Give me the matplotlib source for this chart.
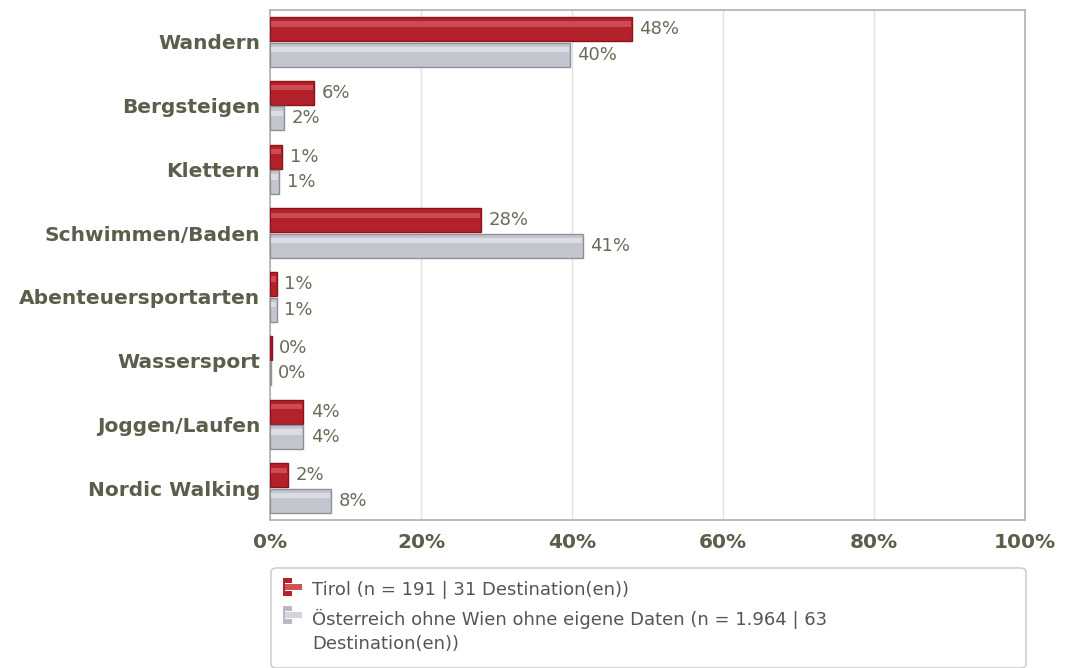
import matplotlib
matplotlib.use("Agg")
import matplotlib.pyplot as plt
from matplotlib.patches import FancyBboxPatch, Rectangle

# Daten
categories = ["Wandern", "Bergsteigen", "Klettern", "Schwimmen/Baden",
              "Abenteuersportarten", "Wassersport", "Joggen/Laufen", "Nordic Walking"]
tirol = [47.9, 5.8, 1.6, 27.9, 0.9, 0.2, 4.4, 2.4]
oesterreich = [39.7, 1.8, 1.2, 41.4, 0.9, 0.1, 4.4, 8.1]
tirol_labels = ["48%", "6%", "1%", "28%", "1%", "0%", "4%", "2%"]
oesterreich_labels = ["40%", "2%", "1%", "41%", "1%", "0%", "4%", "8%"]
x_ticks = [0, 20, 40, 60, 80, 100]
legend_tirol = "Tirol (n = 191 | 31 Destination(en))"
legend_oe = ["Österreich ohne Wien ohne eigene Daten (n = 1.964 | 63", "Destination(en))"]

W, H = 1076, 668
fig = plt.figure(figsize=(W / 100, H / 100), dpi=100)
ax = fig.add_axes([270 / W, 1 - 520 / H, 755 / W, 510 / H])

label_col = "#5b5e4a"
val_col = "#6b6b5a"
red, red_edge, red_hi = "#b3222a", "#8a1419", "#cc4a52"
grey, grey_edge, grey_hi = "#c4c6cf", "#8e909a", "#dcdde3"

y = list(range(len(categories)))
h = 0.38
off = 0.2
y_red = [v - off for v in y]
y_grey = [v + off for v in y]

ax.barh(y_red, tirol, height=h, color=red, edgecolor=red_edge, linewidth=1, zorder=3)
ax.barh(y_grey, oesterreich, height=h, color=grey, edgecolor=grey_edge, linewidth=1, zorder=3)
# Glanzlicht oben auf den Balken
ax.barh([v - 0.08 for v in y_red], [max(v - 0.25, 0) for v in tirol], height=0.08,
        left=0.12, color=red_hi, linewidth=0, zorder=4)
ax.barh([v - 0.08 for v in y_grey], [max(v - 0.25, 0) for v in oesterreich], height=0.08,
        left=0.12, color=grey_hi, linewidth=0, zorder=4)

for yy, v, lab in zip(y_red, tirol, tirol_labels):
    ax.text(v + 1.0, yy, lab, va="center", ha="left", fontsize=13, color=val_col, zorder=5)
for yy, v, lab in zip(y_grey, oesterreich, oesterreich_labels):
    ax.text(v + 1.0, yy, lab, va="center", ha="left", fontsize=13, color=val_col, zorder=5)

ax.set_xlim(0, 100)
ax.set_ylim(len(categories) - 0.5, -0.5)
ax.set_yticks(y)
ax.set_yticklabels(categories, fontsize=14.5, fontweight="bold", color=label_col)
ax.set_xticks(x_ticks)
ax.set_xticklabels([f"{t}%" for t in x_ticks], fontsize=14.5, fontweight="bold", color=label_col)
ax.tick_params(axis="both", length=0)
ax.tick_params(axis="y", pad=7)
ax.tick_params(axis="x", pad=9)
ax.grid(axis="x", color="#e2e2e2", linewidth=1, zorder=0)
for s in ax.spines.values():
    s.set_color("#b0b0b0")
    s.set_linewidth(1.2)


def px(x0, y0):
    return x0 / W, 1 - y0 / H


# Legende
lx, ly = px(271, 668)
box = FancyBboxPatch((lx, ly), 755 / W, 100 / H, boxstyle="round,pad=0,rounding_size=0.006",
                     transform=fig.transFigure, facecolor="white", edgecolor="#d0d0d0",
                     linewidth=1.2)
fig.add_artist(box)


def icon(x0, y0, c_main, c_hi):
    for dx, dy, w, hh, c in [(0, 0, 9, 5, c_main), (0, 6, 19, 6, c_hi), (0, 13, 9, 5, c_main)]:
        fx, fy = px(x0 + dx, y0 + dy + hh)
        fig.add_artist(Rectangle((fx, fy), w / W, hh / H, transform=fig.transFigure,
                                 facecolor=c, edgecolor="none"))
    fx, fy = px(x0, y0 + 18)
    fig.add_artist(Rectangle((fx, fy), 2 / W, 18 / H, transform=fig.transFigure,
                             facecolor=c_main, edgecolor="none"))


icon(283, 578, "#b3222a", "#d05058")
icon(283, 606, "#b8bac3", "#d3d5dc")

for txt, yy in [(legend_tirol, 590), (legend_oe[0], 619), (legend_oe[1], 644)]:
    tx, ty = px(312, yy)
    fig.text(tx, ty, txt, fontsize=13, color="#555555", va="center", ha="left")

fig.savefig("out.png", dpi=100)
